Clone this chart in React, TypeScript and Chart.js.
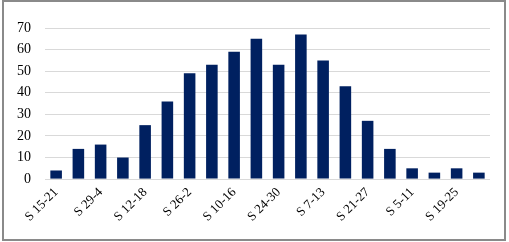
import React, { useEffect, useRef } from "react";
import { Chart, registerables } from "chart.js";

Chart.register(...registerables);

const categories: string[] = [
  "S 15-21", "S 22-28", "S 29-4", "S 5-11", "S 12-18", "S 19-25", "S 26-2", "S 3-9",
  "S 10-16", "S 17-23", "S 24-30", "S 31-6", "S 7-13", "S 14-20", "S 21-27", "S 28-4",
  "S 5-11", "S 12-18", "S 19-25", "S 26-1",
];
const values: number[] = [4, 14, 16, 10, 25, 36, 49, 53, 59, 65, 53, 67, 55, 43, 27, 14, 5, 3, 5, 3];
const yTicks: number[] = [0, 10, 20, 30, 40, 50, 60, 70];

export default function App() {
  const ref = useRef<HTMLCanvasElement | null>(null);
  useEffect(() => {
    document.body.style.margin = "0";
    const ctx = ref.current!;
    const chart = new Chart(ctx, {
      type: "bar",
      data: {
        labels: categories,
        datasets: [
          {
            data: values,
            backgroundColor: "#002060",
            borderWidth: 0,
            barPercentage: 0.52,
            categoryPercentage: 1,
          },
        ],
      },
      options: {
        animation: false,
        responsive: false,
        layout: { padding: { left: 3, right: 19, top: 28, bottom: 12 } },
        plugins: { legend: { display: false }, tooltip: { enabled: false } },
        scales: {
          x: {
            grid: { display: false, drawTicks: false },
            border: { display: false },
            ticks: {
              autoSkip: false,
              minRotation: 45,
              maxRotation: 45,
              padding: 5.5,
              color: "#000",
              font: { family: "'Liberation Serif', 'Times New Roman', serif", size: 13 },
              callback: (_v: any, i: number) => (i % 2 === 0 ? categories[i] : ""),
            },
          },
          y: {
            min: 0,
            max: 70,
            afterBuildTicks: (axis: any) => {
              axis.ticks = yTicks.map((v) => ({ value: v }));
            },
            grid: { color: "#d9d9d9", drawTicks: false, lineWidth: 1 },
            border: { display: false },
            ticks: {
              padding: 14,
              color: "#000",
              font: { family: "'Liberation Serif', 'Times New Roman', serif", size: 14 },
            },
          },
        },
      },
    });
    return () => chart.destroy();
  }, []);
  return (
    <div style={{ position: "relative", width: 509, height: 242 }}>
      <div
        style={{
          position: "absolute",
          left: 2,
          top: 0,
          width: 500,
          height: 237,
          border: "2px solid #8a8a8a",
          boxSizing: "content-box",
        }}
      />
      <canvas ref={ref} width={509} height={242} style={{ position: "absolute", left: 0, top: 0 }} />
    </div>
  );
}
